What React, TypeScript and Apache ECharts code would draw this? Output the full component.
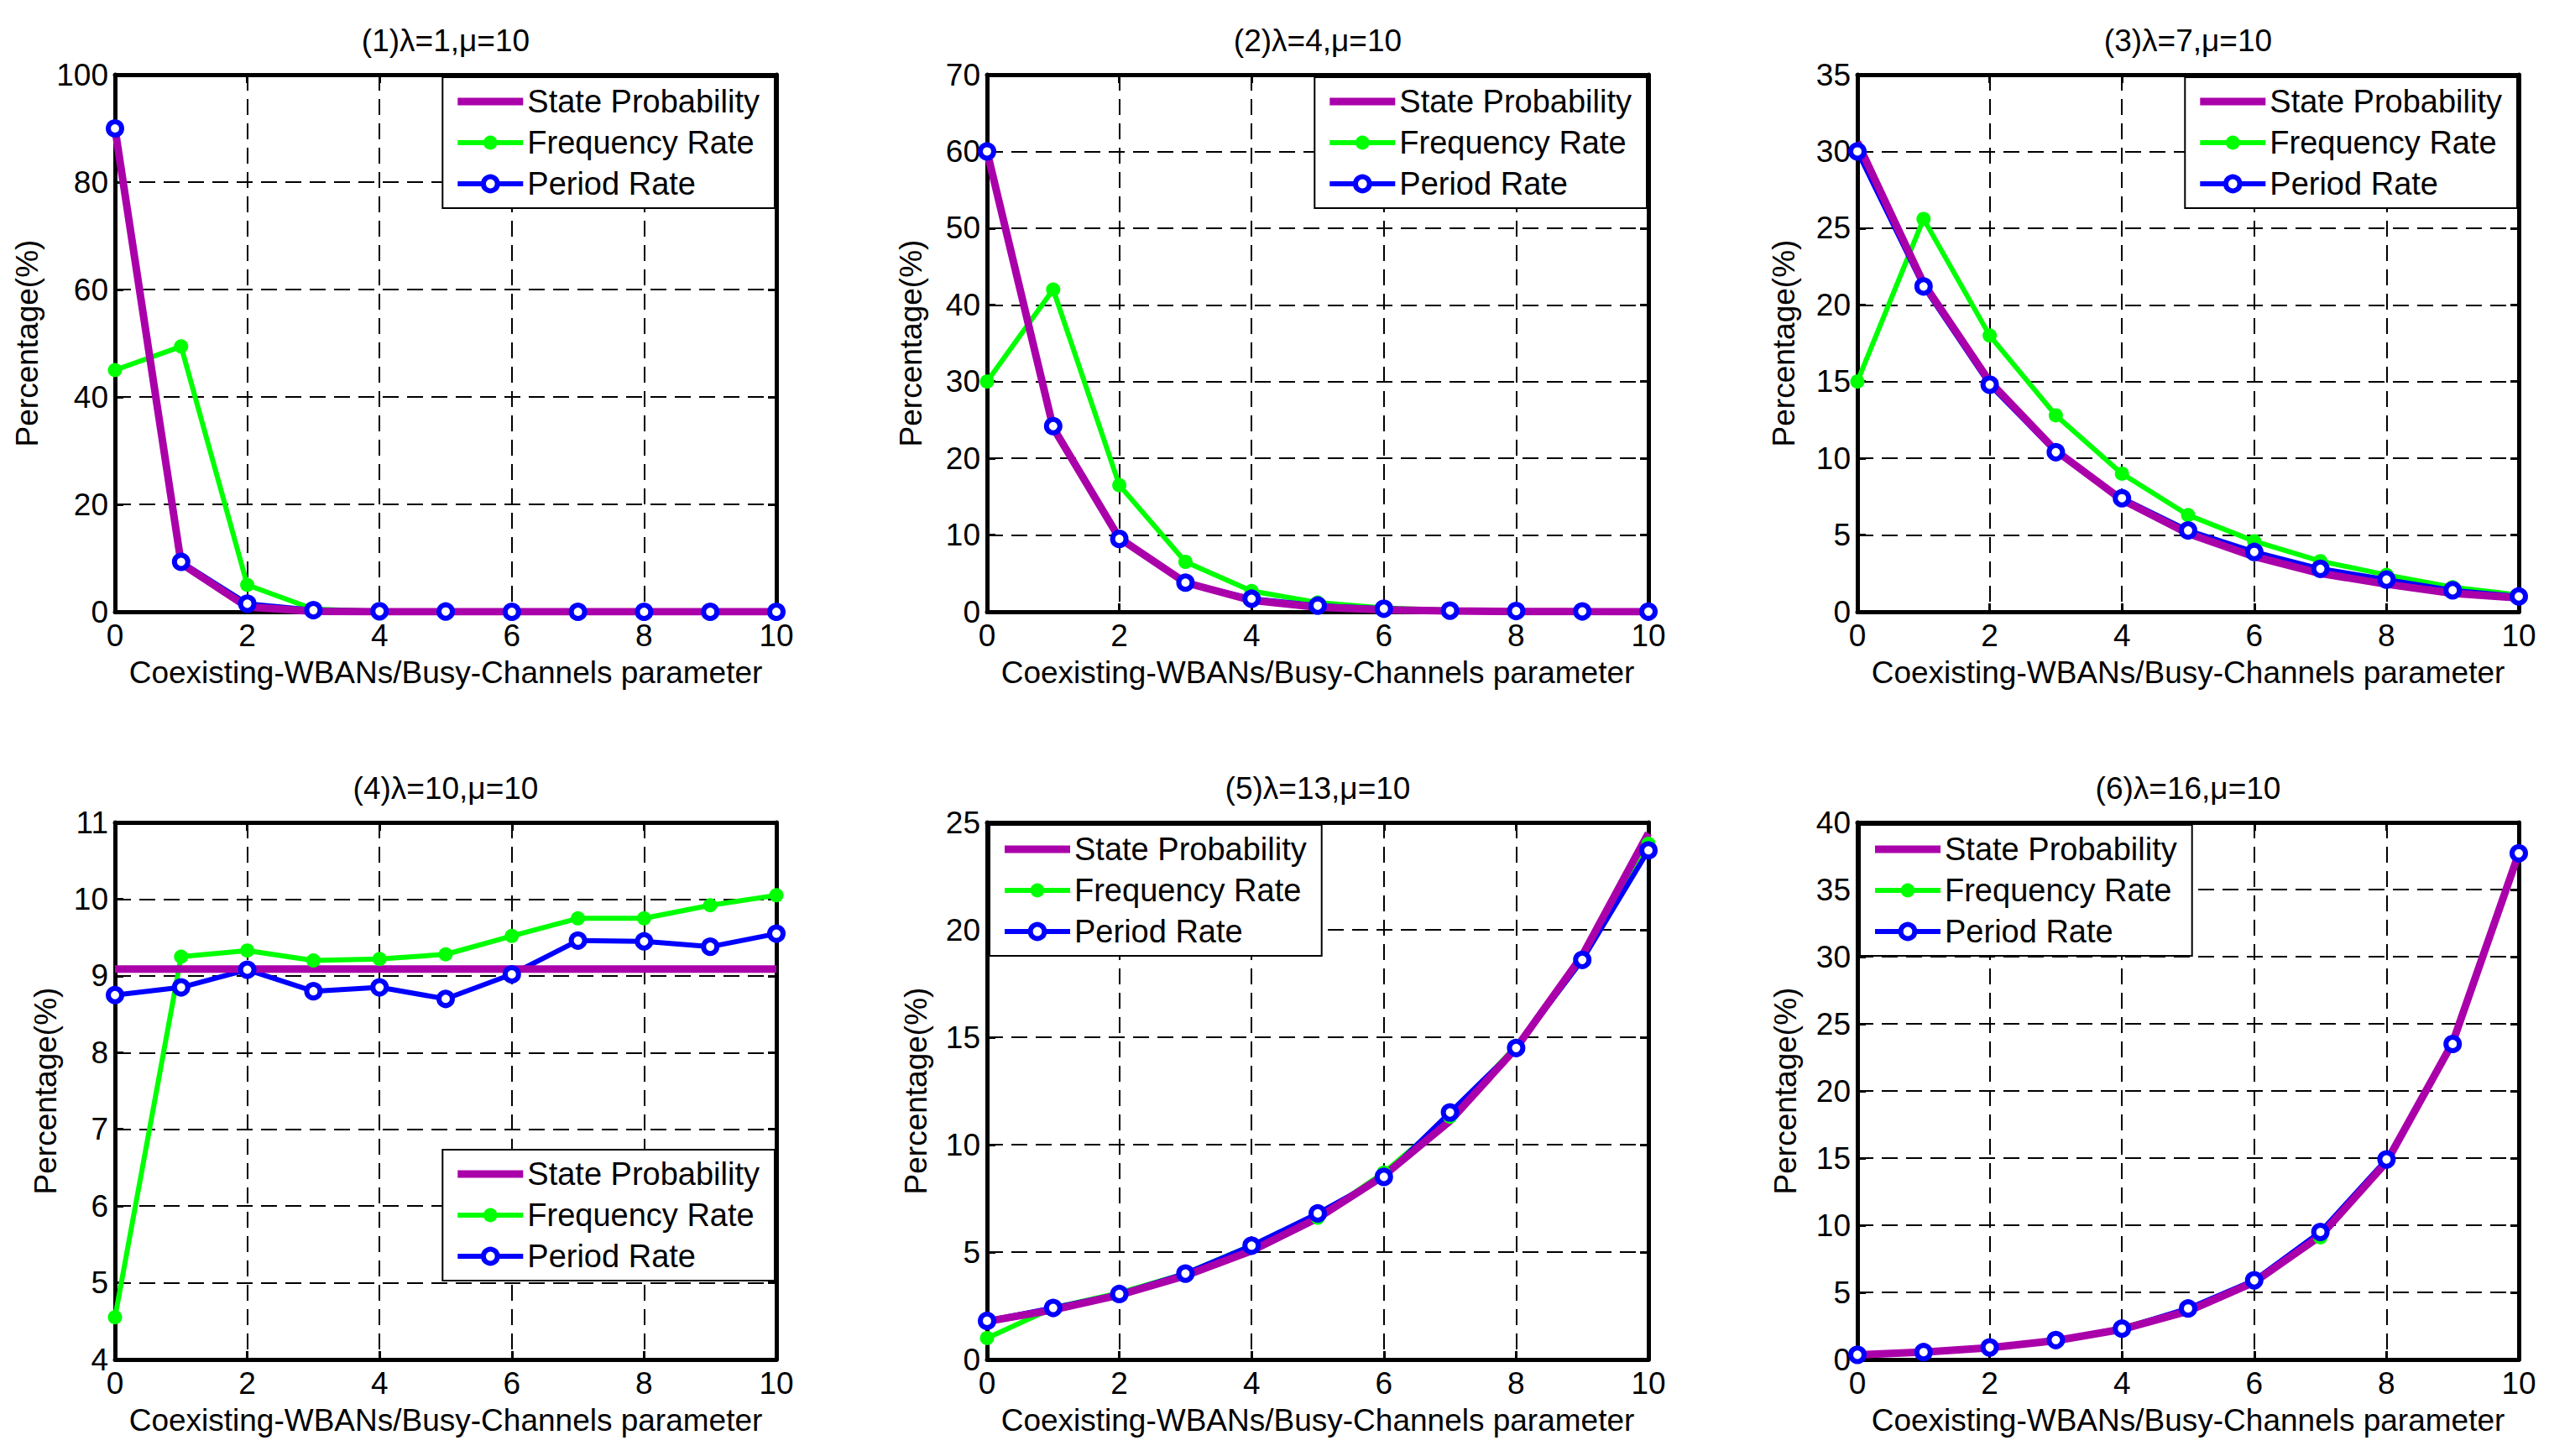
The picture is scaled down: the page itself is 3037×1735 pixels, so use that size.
import { useEffect, useRef } from 'react'
import * as echarts from 'echarts'

// x positions (Coexisting-WBANs/Busy-Channels parameter)
const xs = [0, 1, 2, 3, 4, 5, 6, 7, 8, 9, 10]

const panelTitles = ['(1)λ=1,μ=10', '(2)λ=4,μ=10', '(3)λ=7,μ=10', '(4)λ=10,μ=10', '(5)λ=13,μ=10', '(6)λ=16,μ=10']

// (1) λ=1
const state1 = [90, 9, 0.9, 0.09, 0.01, 0, 0, 0, 0, 0, 0]
const freq1 = [45, 49.4, 5, 0.5, 0.05, 0.01, 0, 0, 0, 0, 0]
const period1 = [90, 9.3, 1.5, 0.3, 0.1, 0.05, 0, 0, 0, 0, 0]
// (2) λ=4
const state2 = [60, 24, 9.6, 3.8, 1.5, 0.6, 0.25, 0.1, 0.04, 0.02, 0.01]
const freq2 = [30, 42, 16.5, 6.5, 2.7, 1.2, 0.5, 0.2, 0.1, 0.05, 0.02]
const period2 = [60, 24.2, 9.5, 3.8, 1.7, 0.8, 0.4, 0.15, 0.1, 0.05, 0.02]
// (3) λ=7
const state3 = [30.6, 21.4, 15.0, 10.5, 7.3, 5.1, 3.6, 2.5, 1.8, 1.2, 0.9]
const freq3 = [15, 25.6, 18.0, 12.8, 9.0, 6.3, 4.6, 3.3, 2.4, 1.6, 1.1]
const period3 = [30.0, 21.2, 14.8, 10.4, 7.4, 5.3, 3.9, 2.8, 2.1, 1.4, 1.0]
// (4) λ=10
const state4 = [9.09, 9.09, 9.09, 9.09, 9.09, 9.09, 9.09, 9.09, 9.09, 9.09, 9.09]
const freq4 = [4.55, 9.25, 9.33, 9.2, 9.22, 9.28, 9.52, 9.75, 9.75, 9.92, 10.05]
const period4 = [8.75, 8.85, 9.08, 8.8, 8.85, 8.7, 9.02, 9.46, 9.45, 9.38, 9.55]
// (5) λ=13
const state5 = [1.77, 2.31, 3.0, 3.9, 5.06, 6.58, 8.56, 11.1, 14.5, 18.8, 24.5]
const freq5 = [1.0, 2.4, 3.1, 4.0, 5.3, 6.6, 8.7, 11.3, 14.6, 18.6, 24.0]
const period5 = [1.8, 2.4, 3.05, 4.0, 5.3, 6.8, 8.5, 11.5, 14.5, 18.6, 23.7]
// (6) λ=16
const state6 = [0.34, 0.55, 0.88, 1.41, 2.25, 3.6, 5.76, 9.2, 14.7, 23.6, 37.7]
const freq6 = [0.3, 0.5, 0.85, 1.4, 2.35, 3.7, 5.8, 9.1, 14.8, 23.4, 37.6]
const period6 = [0.35, 0.55, 0.9, 1.45, 2.3, 3.8, 5.9, 9.5, 14.9, 23.5, 37.7]

const stateSets = [state1, state2, state3, state4, state5, state6]
const freqSets = [freq1, freq2, freq3, freq4, freq5, freq6]
const periodSets = [period1, period2, period3, period4, period5, period6]

const yMins = [0, 0, 0, 4, 0, 0]
const yMaxs = [100, 70, 35, 11, 25, 40]
const ySteps = [20, 10, 5, 1, 5, 5]

const xName = 'Coexisting-WBANs/Busy-Channels parameter'
const yName = 'Percentage(%)'
const names = ['State Probability', 'Frequency Rate', 'Period Rate']

const FONT = '"Liberation Sans", Arial, sans-serif'
const colLeft = [137, 1176, 2213]
const rowTop = [89, 980]
const W = 788
const H = 640
const yNameGaps = [86, 72, 69, 64, 66, 67]

const PURPLE = '#AA00AA'
const GREEN = '#00FF00'
const BLUE = '#0000FF'

function App() {
  const chartRef = useRef<HTMLDivElement>(null)

  useEffect(() => {
    if (!chartRef.current) return
    const chart = echarts.init(chartRef.current, null, { renderer: 'svg' })

    const frameLine = { onZero: false, lineStyle: { color: '#000', width: 5 } }
    const tick = { inside: true, length: 10, lineStyle: { color: '#000', width: 3 } }
    const dashed = { show: true, lineStyle: { color: '#000', width: 2, type: [19, 10] } }
    const labelStyle = { color: '#000', fontSize: 37, fontFamily: FONT }

    const grids: any[] = []
    const xAxes: any[] = []
    const yAxes: any[] = []
    const series: any[] = []
    const graphics: any[] = []

    for (let i = 0; i < 6; i++) {
      const left = colLeft[i % 3]
      const top = rowTop[Math.floor(i / 3)]
      grids.push({ left, top, width: W, height: H })

      xAxes.push({
        gridIndex: i, type: 'value', position: 'bottom', min: 0, max: 10, interval: 2,
        name: xName, nameLocation: 'middle', nameGap: 54, nameTextStyle: labelStyle,
        axisLine: frameLine, axisTick: tick, axisLabel: { ...labelStyle, margin: 10 },
        splitLine: dashed,
      })
      xAxes.push({
        gridIndex: i, type: 'value', position: 'top', min: 0, max: 10, interval: 2,
        axisLine: frameLine, axisTick: tick, axisLabel: { show: false }, splitLine: { show: false },
      })
      yAxes.push({
        gridIndex: i, type: 'value', position: 'left', min: yMins[i], max: yMaxs[i], interval: ySteps[i],
        name: yName, nameLocation: 'middle', nameGap: yNameGaps[i], nameTextStyle: labelStyle,
        axisLine: frameLine, axisTick: tick, axisLabel: { ...labelStyle, margin: 8 },
        splitLine: dashed,
      })
      yAxes.push({
        gridIndex: i, type: 'value', position: 'right', min: yMins[i], max: yMaxs[i], interval: ySteps[i],
        axisLine: frameLine, axisTick: tick, axisLabel: { show: false }, splitLine: { show: false },
      })

      const xi = i * 2
      series.push({
        name: names[1], type: 'line', xAxisIndex: xi, yAxisIndex: xi,
        data: xs.map((x, k) => [x, freqSets[i][k]]),
        lineStyle: { color: GREEN, width: 6 },
        itemStyle: { color: GREEN },
        symbol: 'circle', symbolSize: 17,
      })
      series.push({
        name: names[2], type: 'line', xAxisIndex: xi, yAxisIndex: xi,
        data: xs.map((x, k) => [x, periodSets[i][k]]),
        lineStyle: { color: BLUE, width: 6 },
        itemStyle: { color: '#fff', borderColor: BLUE, borderWidth: 6 },
        symbol: 'circle', symbolSize: 16,
      })
      series.push({
        name: names[0], type: 'line', xAxisIndex: xi, yAxisIndex: xi,
        data: xs.map((x, k) => [x, stateSets[i][k]]),
        lineStyle: { color: PURPLE, width: 9 },
        itemStyle: { color: PURPLE },
        symbol: 'none',
      })

      graphics.push({
        type: 'text',
        x: left + W / 2,
        y: i < 3 ? 48 : 939,
        style: {
          text: panelTitles[i], fill: '#000', font: `37px ${FONT}`,
          textAlign: 'center', textVerticalAlign: 'middle',
        },
      })
    }

    const legendBase = {
      orient: 'vertical',
      data: [
        { name: names[0], icon: 'path://M0,0H78V9H0Z' },
        { name: names[1] },
        { name: names[2] },
      ],
      padding: [9, 18, 9, 15],
      itemGap: 9,
      itemWidth: 78,
      itemHeight: 21,
      backgroundColor: '#fff',
      borderColor: '#000',
      borderWidth: 2,
      borderRadius: 0,
      selectedMode: false,
      textStyle: { color: '#000', fontSize: 38, lineHeight: 40, fontFamily: FONT },
      lineStyle: { width: 'inherit' },
      itemStyle: { borderWidth: 'inherit' },
    }
    const legends = [
      { ...legendBase, right: 3037 - 923, top: 92 },
      { ...legendBase, right: 3037 - 1962, top: 92 },
      { ...legendBase, right: 3037 - 2999, top: 92 },
      { ...legendBase, right: 3037 - 923, top: 1370 },
      { ...legendBase, left: 1179, top: 983 },
      { ...legendBase, left: 2216, top: 983 },
    ]

    chart.setOption({
      animation: false,
      backgroundColor: '#fff',
      grid: grids,
      xAxis: xAxes,
      yAxis: yAxes,
      legend: legends,
      series,
      graphic: graphics,
    })

    return () => {
      chart.dispose()
    }
  }, [])

  return (
    <div
      ref={chartRef}
      style={{ position: 'absolute', left: 0, top: 0, width: '3037px', height: '1735px' }}
    ></div>
  )
}

export default App
